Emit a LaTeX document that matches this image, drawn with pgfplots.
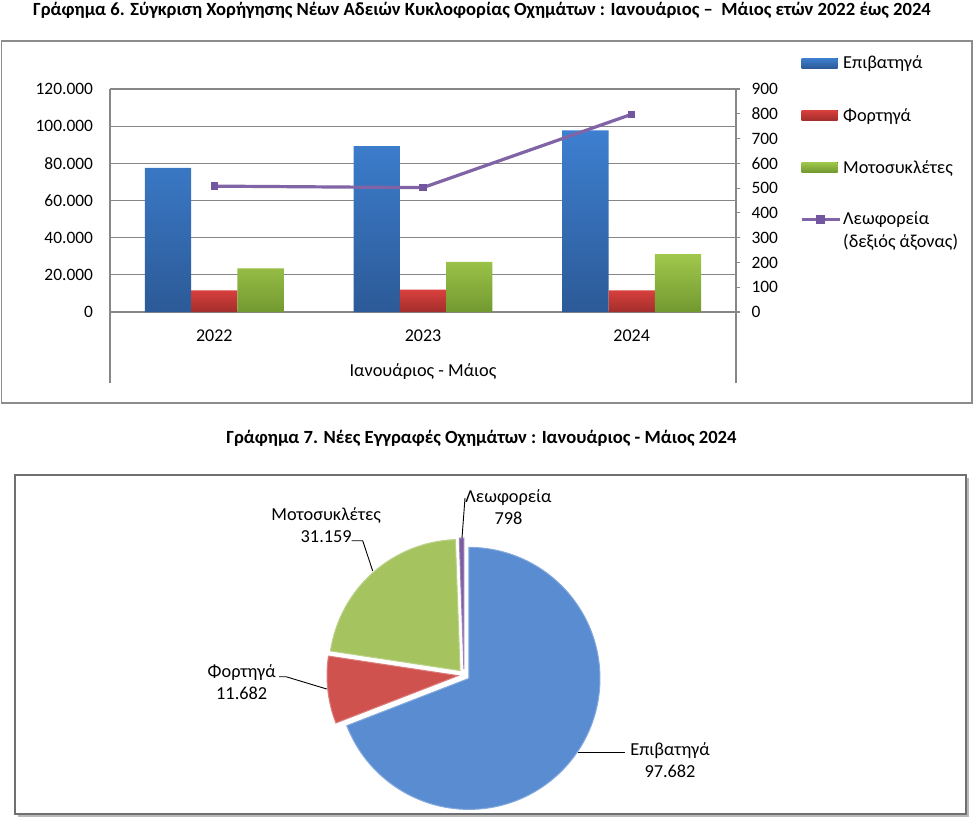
\documentclass[border=0pt]{standalone}
\usepackage{fontspec}
\setmainfont{Carlito}
\usepackage{pgfplots}
\pgfplotsset{compat=1.18}

\definecolor{gridgray}{HTML}{878787}
\definecolor{frameg}{HTML}{8C8C8C}
\definecolor{blueT}{HTML}{3D7FD0}
\definecolor{blueB}{HTML}{2C5A97}
\definecolor{redT}{HTML}{D9403D}
\definecolor{redB}{HTML}{A22E2B}
\definecolor{greenT}{HTML}{A0C84C}
\definecolor{greenB}{HTML}{72992F}
\definecolor{busline}{HTML}{8064A6}
\definecolor{busmark}{HTML}{7256A0}
\definecolor{pieblue}{HTML}{5A8CD2}
\definecolor{piered}{HTML}{D0524F}
\definecolor{piegreen}{HTML}{A5C35F}
\definecolor{piepurple}{HTML}{7C5DA2}

% pie data (January - May 2024)
\def\vP{97682}\def\vF{11682}\def\vM{31159}\def\vL{798}
\edef\tot{\fpeval{\vP+\vF+\vM+\vL}}
\edef\aA{90}
\edef\aB{\fpeval{\aA-360*\vP/\tot}}
\edef\aC{\fpeval{\aB-360*\vF/\tot}}
\edef\aD{\fpeval{\aC-360*\vM/\tot}}
\edef\aE{\fpeval{\aD-360*\vL/\tot}}
\def\R{131}\def\ex{6}

\newcommand\pieslice[3]{% color, start, end
  \edef\md{\fpeval{(#2+#3)/2}}%
  \edef\ox{\fpeval{\ex*cosd(\md)}}%
  \edef\oy{\fpeval{\ex*sind(\md)}}%
  \edef\px{\fpeval{\ox+\R*cosd(#2)}}%
  \edef\py{\fpeval{\oy+\R*sind(#2)}}%
  \edef\tmp{\noexpand\filldraw[fill=#1, draw=#1!75!white, line width=1pt]
    (axis cs:\ox,\oy) -- (axis cs:\px,\py)
    arc[start angle=#2, end angle=#3, radius=\R pt] -- cycle;}%
  \tmp}

\newcommand\fsy{\fontsize{17.4}{20}\selectfont}
\newcommand\fsx{\fontsize{18}{21}\selectfont}
\newcommand\fsl{\fontsize{18.3}{21.7}\selectfont}

\begin{document}
\begin{tikzpicture}
\fill[white] (0,0) rectangle (974pt,-826pt);
\useasboundingbox (0,0) rectangle (974pt,-826pt);

% frames
\draw[frameg, line width=1.3pt] (1.5pt,-41pt) rectangle (972pt,-403pt);
\fill[gray!55] (17.5pt,-478pt) rectangle (968.5pt,-817pt);
\filldraw[fill=white, draw=frameg!80!black, line width=1.4pt] (15pt,-475pt) rectangle (966pt,-814pt);

% titles
\node[font=\fontsize{18.6}{21}\selectfont\bfseries] at (482pt,-10pt)
  {Γράφημα 6. Σύγκριση Χορήγησης Νέων Αδειών Κυκλοφορίας Οχημάτων : Ιανουάριος –\ \ Μάιος ετών 2022 έως 2024};
\node[font=\fontsize{18.6}{21}\selectfont\bfseries] at (481.5pt,-438pt)
  {Γράφημα 7. Νέες Εγγραφές Οχημάτων : Ιανουάριος - Μάιος 2024};

% ---------- bar chart, left axis ----------
\begin{axis}[
  at={(110pt,-383pt)}, anchor=south west,
  scale only axis, width=626pt, height=294pt,
  xmin=-0.5, xmax=2.5, ymin=-38206, ymax=120000,
  axis y line*=left, axis x line*=bottom,
  x axis line style={draw=none},
  y axis line style={gridgray, line width=1.2pt},
  ytick={0,20000,40000,60000,80000,100000,120000},
  ymajorgrids, grid style={gridgray, line width=1.2pt},
  ytick style={draw=none}, xtick style={draw=none},
  xtick={0,1,2}, xticklabels={2022,2023,2024},
  scaled y ticks=false,
  /pgf/number format/assume math mode=true,
  yticklabel style={font=\fsy, /pgf/number format/fixed, /pgf/number format/precision=0, /pgf/number format/1000 sep={.}, xshift=-13.5pt},
  xticklabel style={font=\fsx, anchor=center, yshift=47pt},
  xlabel={Ιανουάριος - Μάιος},
  xlabel style={font=\fsl, at={(axis description cs:0.5,0)}, anchor=center, yshift=11.3pt},
  legend cell align=left,
  legend style={at={(axis description cs:1.10224,1.11837)}, anchor=north west,
    draw=none, fill=none, inner sep=0pt, row sep=34.4pt, column sep=2pt,
    nodes={inner sep=0pt, text height=14.6pt, text depth=3pt, font=\fsl}},
]
\addplot[ybar, bar width=46.3pt, bar shift=-46.3pt, draw=none, top color=blueT, bottom color=blueB,
  legend image code/.code={\fill[top color=blueT, bottom color=blueB] (0pt,-5pt) rectangle (36pt,5pt);}]
  coordinates {(0,77500) (1,89300) (2,97682)};
\addlegendentry{Επιβατηγά}
\addplot[ybar, bar width=46.3pt, bar shift=0pt, draw=none, top color=redT, bottom color=redB,
  legend image code/.code={\fill[top color=redT, bottom color=redB] (0pt,-5pt) rectangle (36pt,5pt);}]
  coordinates {(0,11600) (1,12100) (2,11682)};
\addlegendentry{Φορτηγά}
\addplot[ybar, bar width=46.3pt, bar shift=46.3pt, draw=none, top color=greenT, bottom color=greenB,
  legend image code/.code={\fill[top color=greenT, bottom color=greenB] (0pt,-5pt) rectangle (36pt,5pt);}]
  coordinates {(0,23500) (1,27000) (2,31159)};
\addlegendentry{Μοτοσυκλέτες}
\addlegendimage{busline, line width=3pt,
  legend image code/.code={\draw[busline, line width=3pt] (0pt,0pt) -- (38pt,0pt);
    \fill[busmark] (16pt,-3pt) rectangle (22pt,3pt);}}
\addlegendentry{\vtop{\baselineskip=23pt\hbox{Λεωφορεία}\hbox{(δεξιός άξονας)}}}
\end{axis}

% ---------- bar chart, right axis ----------
\begin{axis}[
  at={(110pt,-383pt)}, anchor=south west,
  scale only axis, width=626pt, height=294pt,
  xmin=-0.5, xmax=2.5, ymin=-286.545, ymax=900,
  axis y line*=right, hide x axis,
  y axis line style={gridgray, line width=1.2pt},
  ytick={0,100,...,900},
  tick align=outside, major tick length=4pt,
  ytick style={gridgray, line width=1.2pt},
  /pgf/number format/assume math mode=true,
  yticklabel style={font=\fsy, /pgf/number format/fixed, xshift=8pt},
]
\addplot[busline, line width=3.2pt, mark=square*, mark size=3.2pt, mark options={fill=busmark, draw=busmark, line width=0pt}]
  coordinates {(0,508) (1,502) (2,798)};
\end{axis}

% ---------- pie chart ----------
\begin{axis}[
  at={(464pt,-675pt)}, anchor=origin,
  x=1pt, y=1pt, xmin=-260, xmax=260, ymin=-145, ymax=205,
  hide axis, clip=false,
]
\pieslice{pieblue}{\aA}{\aB}
\pieslice{piered}{\aB}{\aC}
\pieslice{piegreen}{\aC}{\aD}
\pieslice{piepurple}{\aD}{\aE}
% leader lines
\draw[black, line width=0.9pt] (axis cs:1,177) -- (axis cs:-2,137);
\draw[black, line width=0.9pt] (axis cs:-112.3,134.3) -- (axis cs:-101.3,134.3) -- (axis cs:-91.3,104);
\draw[black, line width=0.9pt] (axis cs:-185,-1.7) -- (axis cs:-178,-1.7) -- (axis cs:-137.3,-14);
\draw[black, line width=0.9pt] (axis cs:114,-77.7) -- (axis cs:161,-77.7);
% labels
\node[font=\fsl, align=center] at (axis cs:44.5,168) {Λεωφορεία\\798};
\node[font=\fsl, align=center] at (axis cs:-137.8,149.6) {Μοτοσυκλέτες\\31.159};
\node[font=\fsl, align=center] at (axis cs:-222.3,-6.8) {Φορτηγά\\11.682};
\node[font=\fsl, align=center] at (axis cs:206,-84.8) {Επιβατηγά\\97.682};
\end{axis}
\end{tikzpicture}
\end{document}
